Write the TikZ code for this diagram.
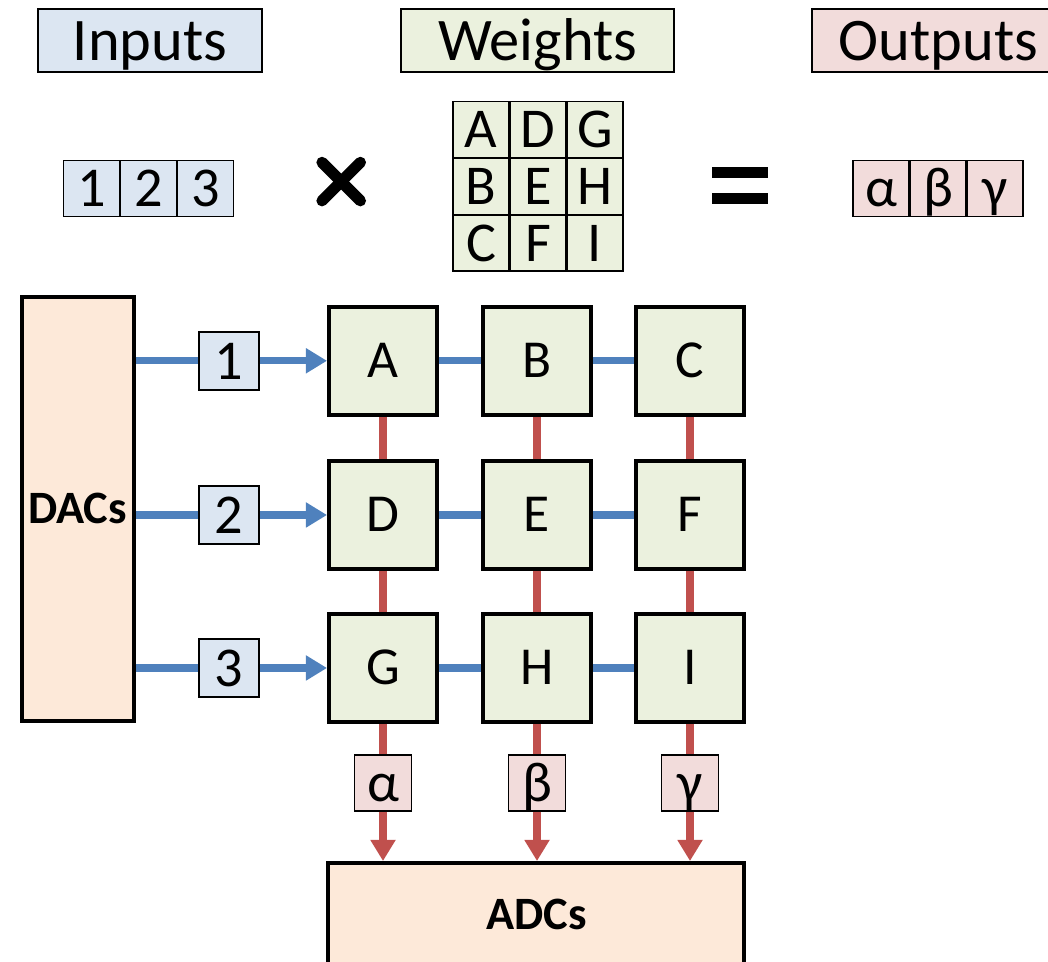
\documentclass[tikz,border=0pt]{standalone}
\usepackage{fontspec}
\setmainfont{Carlito}
\usepackage{tikz}
\usetikzlibrary{arrows.meta,positioning}
\definecolor{inblue}{HTML}{DCE6F2}
\definecolor{wgreen}{HTML}{EBF1DE}
\definecolor{outpink}{HTML}{F2DCDB}
\definecolor{peach}{HTML}{FDE9D9}
\definecolor{wireblue}{HTML}{4F81BD}
\definecolor{wirered}{HTML}{C0504D}

\tikzset{
  legend/.style={draw=black,line width=1.4pt,fill=#1,minimum height=1.575cm,inner sep=0pt,
    font=\fontsize{43}{48}\selectfont,text height=28pt,text depth=0pt},
  entry/.style={draw=black,line width=1.2pt,fill=#1,minimum width=1.4cm,minimum height=1.4cm,inner sep=0pt,
    font=\fontsize{40}{44}\selectfont,text height=26pt,text depth=0pt},
  cell/.style={draw=black,line width=2.8pt,fill=wgreen,minimum size=2.7cm,inner sep=0pt,
    font=\fontsize{38}{44}\selectfont,text height=24pt,text depth=0pt},
  conv/.style={draw=black,line width=2.8pt,fill=peach,inner sep=0pt,
    font=\bfseries\fontsize{33}{38}\selectfont,text height=21pt,text depth=0pt},
  bluewire/.style={wireblue,line width=5pt},
  redwire/.style={wirered,line width=5pt},
  tip/.style={-{Triangle[length=15pt,width=17pt]}}
}

\begin{document}
\begin{tikzpicture}[x=1cm,y=1cm]
  \useasboundingbox (0,0) rectangle (26.2,24.05);

  % headings
  \node[legend=inblue,minimum width=5.6cm] (inputs) at (3.75,23.04) {Inputs};
  \node[legend=wgreen,minimum width=6.82cm] (weights) at (13.44,23.04) {Weights};
  \node[legend=outpink,minimum width=6.3cm] (outputs) at (23.46,23.04) {Outputs};

  % vector times matrix equals vector
  \foreach \lab [count=\i] in {1,2,3}
    \node[entry=inblue] (x\i) at (0.865+1.425*\i,19.34) {\lab};
  \draw[line width=8pt,line cap=round] (8.05,19.03) -- (9.01,19.99);
  \draw[line width=8pt,line cap=round] (8.05,19.99) -- (9.01,19.03);
  \foreach \lab/\c/\r in {A/1/1,D/2/1,G/3/1,B/1/2,E/2/2,H/3/2,C/1/3,F/2/3,I/3/3}
    \node[entry=wgreen] (m\c\r) at (10.61+1.42*\c,22.23-1.42*\r) {\lab};
  \fill (17.8,19.6) rectangle (19.2,19.875);
  \fill (17.8,18.95) rectangle (19.2,19.225);
  \foreach \lab [count=\i] in {α,β,γ}
    \node[entry=outpink] (y\i) at (20.61+1.42*\i,19.34) {\lab};

  % crossbar
  \node[conv,minimum width=2.8cm,minimum height=10.6cm] (dac) at (1.94,11.33) {DACs};
  \node[conv,minimum width=10.4cm,minimum height=2.6cm] (adc) at (13.41,1.175) {ADCs};
  \foreach \lab/\x/\y in {A/9.575/15.03,B/13.425/15.03,C/17.25/15.03,
                          D/9.575/11.175,E/13.425/11.175,F/17.25/11.175,
                          G/9.575/7.35,H/13.425/7.35,I/17.25/7.35}
    \node[cell] (cell\lab) at (\x,\y) {\lab};
  \foreach \r/\y in {1/15.03,2/11.175,3/7.35}
    \node[entry=inblue,minimum width=1.5cm,minimum height=1.45cm] (in\r) at (5.725,\y) {\r};
  \foreach \lab/\x [count=\k] in {α/9.575,β/13.425,γ/17.25}
    \node[entry=outpink,minimum width=1.425cm] (out\k) at (\x,4.475) {\lab};

  % word lines
  \foreach \r/\a/\b/\c in {1/A/B/C,2/D/E/F,3/G/H/I}{
    \draw[bluewire] (in\r -| dac.east) -- (in\r);
    \draw[bluewire,tip] (in\r) -- (cell\a);
    \draw[bluewire] (cell\a) -- (cell\b);
    \draw[bluewire] (cell\b) -- (cell\c);
  }
  % bit lines
  \foreach \k/\a/\b/\c in {1/A/D/G,2/B/E/H,3/C/F/I}{
    \draw[redwire] (cell\a) -- (cell\b);
    \draw[redwire] (cell\b) -- (cell\c);
    \draw[redwire] (cell\c) -- (out\k);
    \draw[redwire,tip] (out\k) -- (out\k |- adc.north);
  }
\end{tikzpicture}
\end{document}
